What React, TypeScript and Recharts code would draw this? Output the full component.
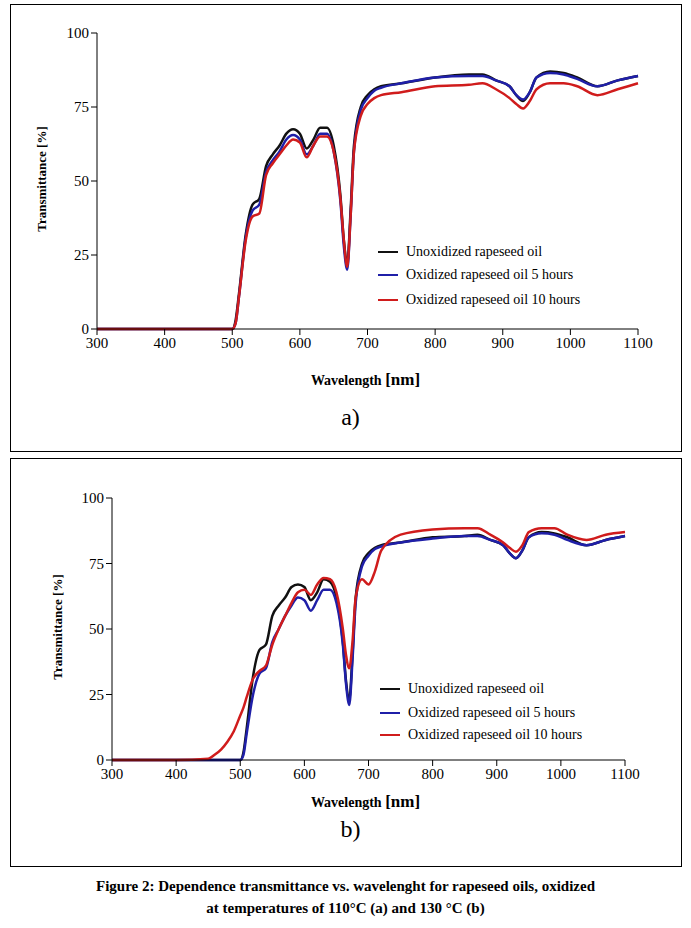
import React from 'react';
import {CartesianGrid, Line, LineChart, XAxis, YAxis} from 'recharts';

const WL = [300, 400, 450, 460, 470, 480, 490, 500, 505, 510, 520, 530, 540, 550, 560, 570, 580, 590, 600, 610, 620, 630, 640, 650, 660, 665, 670, 675, 680, 690, 700, 710, 720, 750, 800, 850, 870, 890, 910, 920, 930, 940, 950, 970, 990, 1010, 1040, 1070, 1100];

const Z = [0, 0, 0, 0, 0, 0, 0, 0];
const A_UNOX = [...Z, 3, 12, 32, 42, 44, 55, 59, 62, 66, 67.5, 66, 61, 64, 68, 68, 62, 45, 30, 22, 40, 62, 75, 79, 81, 82, 83, 85, 86, 86, 84, 82, 79, 77, 80, 85, 87, 86.5, 85, 82, 84, 85.5];
const A_5H = [...Z, 2, 11, 31, 40, 42, 53, 57, 60, 64, 65.5, 64, 59, 62, 66, 66, 60, 43, 28, 20, 38, 60, 74, 78, 80.5, 81.5, 83, 85, 85.5, 85.5, 84, 82, 79, 77.5, 80, 85, 86.5, 86, 84.5, 82, 84, 85.5];
const A_10H = [...Z, 2, 11, 30, 38, 39, 52, 56, 59, 62, 64, 63, 58, 62, 65, 65, 60, 44, 30, 21, 38, 60, 72, 76, 78, 79, 80, 82, 82.5, 83, 81, 78, 76, 74.5, 77, 81, 83, 83, 82, 79, 81, 83];

const B_UNOX = [...Z, 3, 12, 32, 42, 44, 55, 59, 62, 66, 67, 66, 61, 64, 69, 68, 62, 45, 30, 23, 40, 62, 75, 79, 81, 82, 83, 85, 85.5, 86, 84, 82, 79, 77, 80, 85, 87, 86.5, 85, 82, 84, 85.5];
const B_5H = [...Z, 2, 10, 25, 33, 35, 45, 50, 55, 59, 62, 61, 57, 61, 65, 65, 60, 44, 29, 21, 38, 60, 74, 78, 80.5, 81.5, 83, 84.5, 85.5, 85.5, 84, 82, 79, 77, 80, 85, 86.5, 86, 84, 82, 84, 85.5];
const B_10H = [0, 0, 0.5, 2, 4, 7, 11, 17, 20, 24, 31, 34, 36, 44, 50, 55, 60, 64, 65, 63, 67, 69.5, 69, 64, 50, 40, 35, 45, 62, 69, 67, 72, 80, 86, 88, 88.5, 88.5, 86, 83, 81, 79.5, 82, 87, 88.5, 88.5, 86, 84, 86, 87];

const X_TICKS = [300, 400, 500, 600, 700, 800, 900, 1000, 1100];
const Y_TICKS = [0, 25, 50, 75, 100];
const LABELS = ['Unoxidized rapeseed oil', 'Oxidized rapeseed oil 5 hours', 'Oxidized rapeseed oil 10 hours'];
const COLORS = ['#111111', '#1f1fa8', '#d01c1c'];

const serif = '"Liberation Serif", "Times New Roman", serif';

const build = (u: number[], b: number[], r: number[]) =>
  WL.map((w, i) => ({w, u: u[i], b: b[i], r: r[i]}));

interface PanelProps {
  top: number;
  boxH: number;
  plot: {x0: number; x1: number; y0: number; y1: number};
  data: {w: number; u: number; b: number; r: number}[];
  legendX: number;
  legendY: number[];
  ylabX: number;
  xlabY: number;
  tag: string;
  tagY: number;
}

const Panel: React.FC<PanelProps> = ({top, boxH, plot, data, legendX, legendY, ylabX, xlabY, tag, tagY}) => {
  const yw = 40;
  const xh = 30;
  const H = plot.y1 + xh + 2;
  return (
    <>
      <div style={{position: 'absolute', left: 10, top, width: 670, height: boxH, border: '1px solid #000'}} />
      <div style={{position: 'absolute', left: 0, top: 0}}>
        <LineChart width={691} height={H} data={data}
                   margin={{top: plot.y0, left: plot.x0 - yw, right: 691 - plot.x1, bottom: H - plot.y1 - xh}}>
          <CartesianGrid stroke="none" />
          <XAxis dataKey="w" type="number" domain={[300, 1100]} ticks={X_TICKS} height={xh}
                 tick={{fontFamily: serif, fontSize: 15, fill: '#000'}} stroke="#000" tickSize={6} />
          <YAxis type="number" domain={[0, 100]} ticks={Y_TICKS} width={yw}
                 tick={{fontFamily: serif, fontSize: 15, fill: '#000'}} stroke="#000" tickSize={6} />
          <Line dataKey="u" stroke={COLORS[0]} strokeWidth={2.5} dot={false} type="monotone" isAnimationActive={false} />
          <Line dataKey="b" stroke={COLORS[1]} strokeWidth={2.5} dot={false} type="monotone" isAnimationActive={false} />
          <Line dataKey="r" stroke={COLORS[2]} strokeWidth={2.5} dot={false} type="monotone" isAnimationActive={false} />
        </LineChart>
      </div>
      <div style={{position: 'absolute', left: ylabX - 100, top: (plot.y0 + plot.y1) / 2 - 10, width: 200, textAlign: 'center',
        transform: 'rotate(-90deg)', fontFamily: serif, fontWeight: 'bold', fontSize: 13}}>Transmittance [%]</div>
      <div style={{position: 'absolute', left: 0, width: 691, top: xlabY - 10, textAlign: 'center',
        fontFamily: serif, fontWeight: 'bold', fontSize: 14}}>
        <span style={{marginLeft: 40}}>Wavelength <span style={{fontSize: 17}}>[nm]</span></span>
      </div>
      <div style={{position: 'absolute', left: 0, width: 691, top: tagY - 14, textAlign: 'center', fontFamily: serif, fontSize: 24}}>
        <span style={{marginLeft: 10}}>{tag}</span>
      </div>
      {LABELS.map((l, i) => (
        <div key={l} style={{position: 'absolute', left: legendX, top: legendY[i] - 9, display: 'flex', alignItems: 'center',
          fontFamily: serif, fontSize: 14}}>
          <span style={{display: 'inline-block', width: 20, height: 2.5, background: COLORS[i], marginRight: 8}} />
          {l}
        </div>
      ))}
    </>
  );
};

export default function App() {
  return (
    <div style={{position: 'fixed', left: 0, top: 0, width: 691, height: 928, background: '#fff'}}>
      <Panel top={4} boxH={446} plot={{x0: 97, x1: 638, y0: 33, y1: 329}} data={build(A_UNOX, A_5H, A_10H)}
             legendX={378} legendY={[253, 276, 301]} ylabX={42} xlabY={380} tag="a)" tagY={418} />
      <Panel top={458} boxH={407} plot={{x0: 112, x1: 625, y0: 498, y1: 760}} data={build(B_UNOX, B_5H, B_10H)}
             legendX={380} legendY={[690, 714, 736]} ylabX={58} xlabY={802} tag="b)" tagY={830} />
      <div style={{position: 'absolute', left: 0, width: 691, top: 875, textAlign: 'center', fontFamily: serif,
        fontWeight: 'bold', fontSize: 15, lineHeight: '22px'}}>
        Figure 2: Dependence transmittance vs. wavelenght for rapeseed oils, oxidized<br />
        at temperatures of 110°C (a) and 130 °C (b)
      </div>
    </div>
  );
}
